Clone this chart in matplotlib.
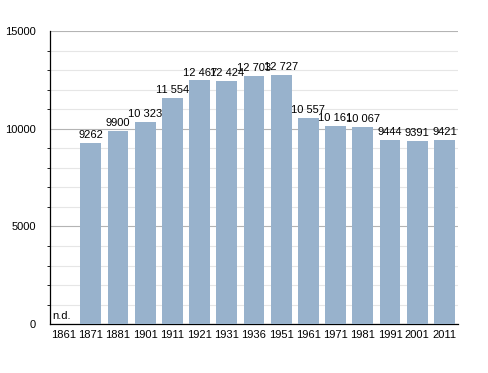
import matplotlib.pyplot as plt
from matplotlib.ticker import MultipleLocator

plt.rcParams['font.family'] = ['Liberation Sans', 'DejaVu Sans']

years = ['1861', '1871', '1881', '1901', '1911', '1921', '1931', '1936',
         '1951', '1961', '1971', '1981', '1991', '2001', '2011']
population = [0, 9262, 9900, 10323, 11554, 12467, 12424, 12703,
              12727, 10557, 10161, 10067, 9444, 9391, 9421]
labels = ['n.d.', '9262', '9900', '10 323', '11 554', '12 467', '12 424', '12 703',
          '12 727', '10 557', '10 161', '10 067', '9444', '9391', '9421']

fig = plt.figure(figsize=(4.88, 3.73), dpi=100)
ax = fig.add_axes([0.1025, 0.131, 0.836, 0.786])

x = range(len(years))
ax.bar(x, population, width=0.77, color='#98b2cc', zorder=3)

# etiket nilai di atas tiap batang
for i, (v, lab) in enumerate(zip(population, labels)):
    if v == 0:
        ax.text(i - 0.4, 150, lab, fontsize=8, ha='left', va='bottom', zorder=4)
    else:
        ax.text(i, v + 150, lab, fontsize=8, ha='center', va='bottom', zorder=4)

ax.set_xlim(-0.5, len(years) - 0.5)
ax.set_ylim(0, 15000)
ax.set_xticks(list(x))
ax.set_xticklabels(years, fontsize=8)
ax.tick_params(axis='x', length=0, pad=4)

ax.yaxis.set_major_locator(MultipleLocator(5000))
ax.yaxis.set_minor_locator(MultipleLocator(1000))
ax.tick_params(axis='y', which='major', length=0, labelsize=8, pad=10)
ax.tick_params(axis='y', which='minor', length=2, direction='out')
ax.grid(axis='y', which='major', color='#b4b4b4', linewidth=0.8, zorder=0)
ax.grid(axis='y', which='minor', color='#e6e6e6', linewidth=0.8, zorder=0)

for s in ['top', 'right']:
    ax.spines[s].set_visible(False)
ax.spines['left'].set_linewidth(0.9)
ax.spines['bottom'].set_linewidth(0.9)

fig.savefig('out.png', dpi=100)
